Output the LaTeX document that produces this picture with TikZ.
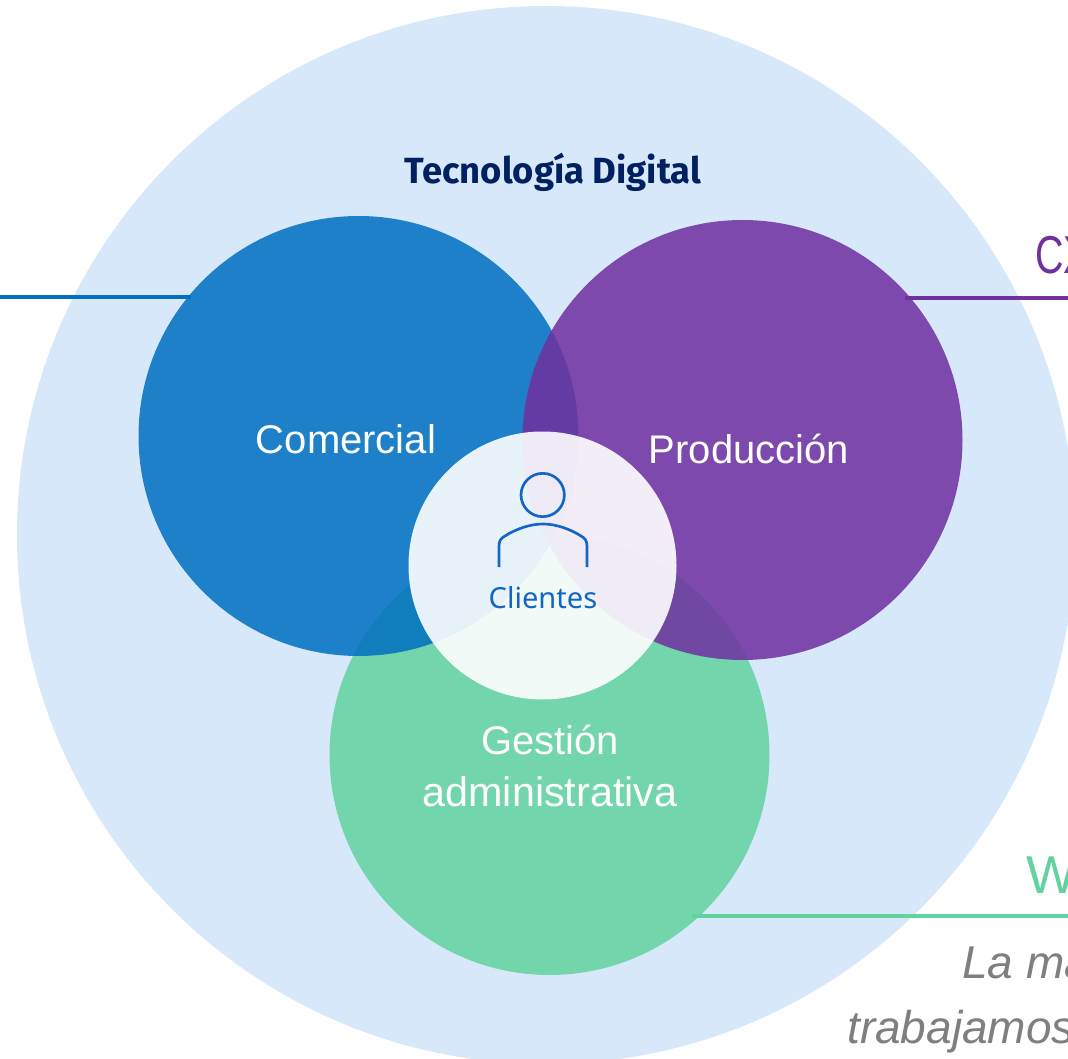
\documentclass[tikz,border=0pt]{standalone}
\usepackage{fontspec}
\setmainfont{Liberation Sans}
\newfontfamily\notofont{Noto Sans}
\newfontfamily\tecfont{Fira Sans Bold}
\newfontfamily\narrowfont[FakeStretch=.74]{Liberation Sans}
\definecolor{bigblue}{HTML}{D8E8FB}
\definecolor{comblue}{HTML}{0070C0}
\definecolor{prodpurple}{HTML}{7030A0}
\definecolor{gestgreen}{HTML}{62D29E}
\definecolor{navytext}{HTML}{002060}
\definecolor{iconblue}{HTML}{1565C8}
\definecolor{greytext}{HTML}{7F7F7F}
\tikzset{
  disc/.style={circle,inner sep=0pt,minimum size=330pt,fill opacity=.86},
  whitedisc/.style={circle,inner sep=0pt,minimum size=201pt,fill=white,fill opacity=.9},
  wordlabel/.style={text=white,font=\fontsize{30pt}{36pt}\selectfont,align=center,inner sep=0pt},
  sidelabel/.style={anchor=base west,inner sep=0pt,font=\fontsize{40pt}{48pt}\selectfont},
  notelabel/.style={anchor=base west,inner sep=0pt,text=greytext,font=\fontsize{34.5pt}{40pt}\selectfont\itshape},
  leader/.style={line width=3pt},
  iconline/.style={draw=iconblue,line width=2pt}
}
\begin{document}
\begin{tikzpicture}[x=.75pt,y=-.75pt]
\useasboundingbox (0,0) rectangle (1068,1059);
\clip (0,0) rectangle (1068,1059);
\node[circle,inner sep=0pt,minimum size=793.5pt,fill=bigblue] (big) at (546,535) {};
\coordinate (leftedge) at (0,297);
\coordinate (rightedge) at (1068,297);
\node[disc,fill=gestgreen] (gest) at (549.5,755) {};
\node[disc,fill=comblue] (com) at (358.5,436) {};
\node[disc,fill=prodpurple] (prod) at (742.5,440) {};
\draw[leader,comblue,shorten <=-2.5pt] (com.141.8) -- (com.141.8 -| leftedge);
\draw[leader,prodpurple,shorten <=-5pt] (prod.40.5) -- (prod.40.5 -| rightedge);
\draw[leader,gestgreen,shorten <=-6pt] (gest.-47.7) -- (gest.-47.7 -| rightedge);
\node[whitedisc] (cli) at (542.5,565.5) {};
\node[wordlabel] (comlabel) at (346,439) {Comercial};
\node[wordlabel] (prodlabel) at (749,449) {Producción};
\node[wordlabel] (gestlabel) at (550,766) {Gestión\\[2.5pt]{\fontsize{31pt}{36pt}\selectfont administrativa}};
\node[inner sep=0pt,text=navytext,font=\tecfont\fontsize{27.3pt}{32pt}\selectfont] (tec) at (553,172) {Tecnología Digital};
\node[inner sep=0pt,text=iconblue,font=\notofont\fontsize{21.8pt}{25pt}\selectfont] (clilabel) at (543,598) {Clientes};
\node[circle,inner sep=0pt,minimum size=32.5pt,iconline] (head) at (542.7,495) {};
\draw[iconline] (499,567) -- (499,546) .. controls (499,541) and (501,538) .. (505,536) .. controls (516,529) and (530,524) .. (543,524) .. controls (556,524) and (570,529) .. (581,536) .. controls (585,538) and (587,541) .. (587,546) -- (587,567);
\node[sidelabel,text=prodpurple,font=\narrowfont\fontsize{40pt}{48pt}\selectfont] (cx) at (1035,274) {CX};
\node[sidelabel,text=gestgreen] (w) at (1026,893) {W};
\node[notelabel] (la) at (962,978) {La ma};
\node[notelabel] (tra) at (847,1043) {trabajamos};
\end{tikzpicture}
\end{document}
